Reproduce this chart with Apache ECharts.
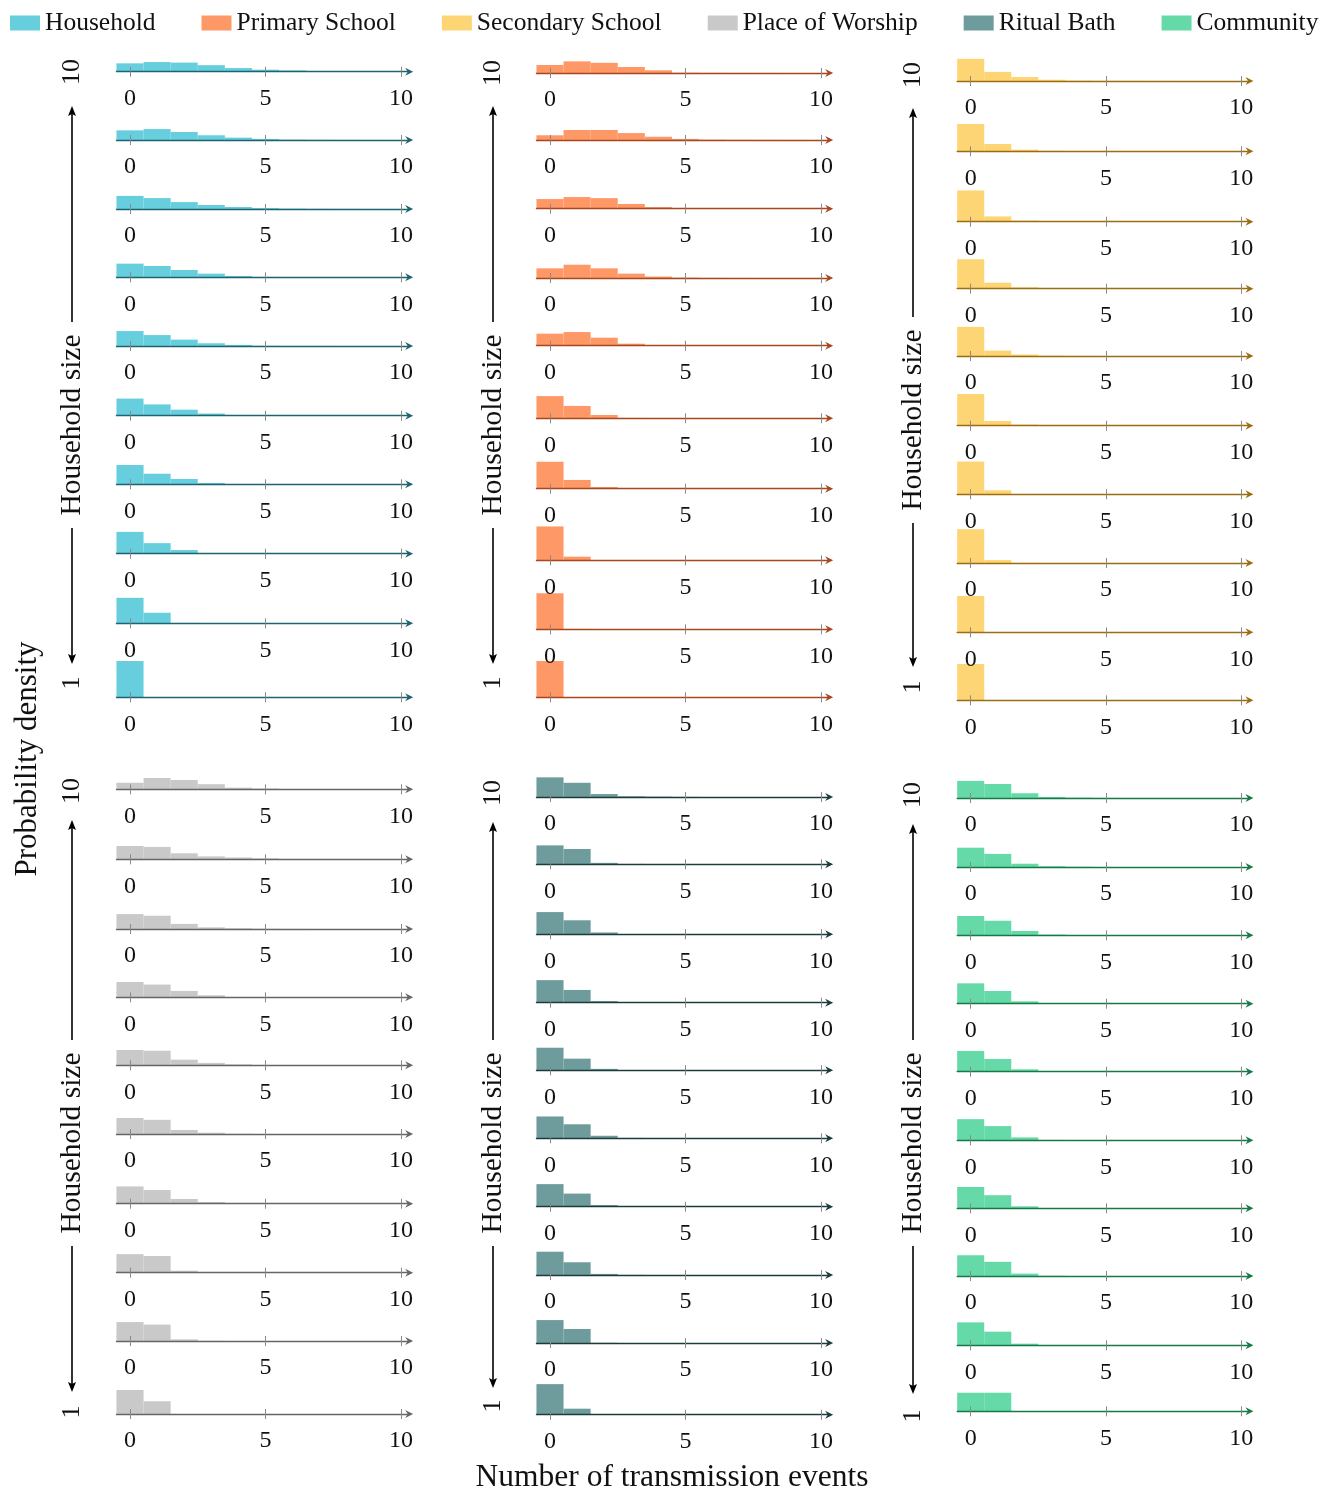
<!DOCTYPE html>
<html><head><meta charset="utf-8">
<script src="https://cdn.jsdelivr.net/npm/echarts@6/dist/echarts.min.js"></script>
<style>html,body{margin:0;padding:0;background:#fff}#c{width:1327px;height:1492px}</style>
</head><body><div id="c"></div>
<script>
// ---------- DATA ----------
const categories = ['Household', 'Primary School', 'Secondary School', 'Place of Worship', 'Ritual Bath', 'Community'];
const bins = [0, 1, 2, 3, 4, 5, 6, 7, 8, 9, 10];
const householdSizes = [10, 9, 8, 7, 6, 5, 4, 3, 2, 1];   // top to bottom in each panel
const xTickLabels = [0, 5, 10];

const household = [
  [0.23, 0.265, 0.25, 0.18, 0.10, 0.055, 0.035, 0.015, 0.006, 0.003, 0.002],
  [0.265, 0.30, 0.22, 0.13, 0.065, 0.03, 0.01, 0.005, 0.003, 0.002, 0.001],
  [0.36, 0.30, 0.19, 0.11, 0.055, 0.025, 0.01, 0.005, 0.003, 0.002, 0.001],
  [0.375, 0.31, 0.20, 0.10, 0.035, 0.01, 0.004, 0.002, 0.001, 0, 0],
  [0.41, 0.30, 0.175, 0.075, 0.03, 0.006, 0.002, 0.001, 0, 0, 0],
  [0.47, 0.31, 0.165, 0.06, 0.005, 0, 0, 0, 0, 0, 0],
  [0.53, 0.29, 0.145, 0.035, 0.002, 0, 0, 0, 0, 0, 0],
  [0.60, 0.29, 0.10, 0.01, 0, 0, 0, 0, 0, 0, 0],
  [0.70, 0.29, 0.01, 0, 0, 0, 0, 0, 0, 0, 0],
  [1.0, 0, 0, 0, 0, 0, 0, 0, 0, 0, 0]
];
const primarySchool = [
  [0.22, 0.32, 0.28, 0.165, 0.075, 0.008, 0.004, 0.002, 0.001, 0, 0],
  [0.13, 0.275, 0.275, 0.19, 0.09, 0.03, 0.008, 0.003, 0.002, 0.001, 0],
  [0.265, 0.32, 0.29, 0.13, 0.045, 0.01, 0.003, 0.001, 0, 0, 0],
  [0.265, 0.365, 0.265, 0.12, 0.04, 0.01, 0.003, 0.001, 0, 0, 0],
  [0.33, 0.375, 0.22, 0.055, 0.01, 0.003, 0.001, 0, 0, 0, 0],
  [0.61, 0.34, 0.09, 0.01, 0.002, 0, 0, 0, 0, 0, 0],
  [0.74, 0.24, 0.045, 0.01, 0.003, 0, 0, 0, 0, 0, 0],
  [0.93, 0.10, 0.005, 0, 0, 0, 0, 0, 0, 0, 0],
  [0.99, 0.01, 0, 0, 0, 0, 0, 0, 0, 0, 0],
  [1.0, 0, 0, 0, 0, 0, 0, 0, 0, 0, 0]
];
const secondarySchool = [
  [0.61, 0.25, 0.11, 0.035, 0.01, 0.004, 0.002, 0.001, 0, 0, 0],
  [0.75, 0.20, 0.045, 0.01, 0.003, 0, 0, 0, 0, 0, 0],
  [0.86, 0.145, 0.03, 0.005, 0, 0, 0, 0, 0, 0, 0],
  [0.81, 0.165, 0.04, 0.01, 0.003, 0, 0, 0, 0, 0, 0],
  [0.80, 0.15, 0.04, 0.01, 0.003, 0, 0, 0, 0, 0, 0],
  [0.87, 0.13, 0.03, 0.005, 0, 0, 0, 0, 0, 0, 0],
  [0.90, 0.11, 0.01, 0, 0, 0, 0, 0, 0, 0, 0],
  [0.93, 0.08, 0.005, 0, 0, 0, 0, 0, 0, 0, 0],
  [1.0, 0.003, 0, 0, 0, 0, 0, 0, 0, 0, 0],
  [1.0, 0, 0, 0, 0, 0, 0, 0, 0, 0, 0]
];
const placeOfWorship = [
  [0.18, 0.31, 0.255, 0.14, 0.045, 0.02, 0.005, 0.002, 0.001, 0, 0],
  [0.365, 0.34, 0.165, 0.08, 0.05, 0.025, 0.008, 0.003, 0.001, 0, 0],
  [0.41, 0.365, 0.14, 0.045, 0.02, 0.005, 0.002, 0, 0, 0, 0],
  [0.42, 0.35, 0.175, 0.055, 0.005, 0, 0, 0, 0, 0, 0],
  [0.42, 0.40, 0.155, 0.065, 0.025, 0.005, 0, 0, 0, 0, 0],
  [0.44, 0.39, 0.11, 0.035, 0.005, 0, 0, 0, 0, 0, 0],
  [0.475, 0.375, 0.13, 0.045, 0.005, 0, 0, 0, 0, 0, 0],
  [0.51, 0.46, 0.055, 0.005, 0, 0, 0, 0, 0, 0, 0],
  [0.52, 0.45, 0.045, 0.003, 0, 0, 0, 0, 0, 0, 0],
  [0.66, 0.35, 0, 0, 0, 0, 0, 0, 0, 0, 0]
];
const ritualBath = [
  [0.54, 0.39, 0.08, 0.02, 0.01, 0.003, 0, 0, 0, 0, 0],
  [0.52, 0.42, 0.04, 0.01, 0.003, 0, 0, 0, 0, 0, 0],
  [0.61, 0.385, 0.05, 0.005, 0, 0, 0, 0, 0, 0, 0],
  [0.62, 0.35, 0.045, 0.005, 0, 0, 0, 0, 0, 0, 0],
  [0.62, 0.32, 0.04, 0.005, 0, 0, 0, 0, 0, 0, 0],
  [0.60, 0.385, 0.07, 0.01, 0.002, 0, 0, 0, 0, 0, 0],
  [0.62, 0.36, 0.045, 0.005, 0, 0, 0, 0, 0, 0, 0],
  [0.64, 0.35, 0.03, 0.003, 0, 0, 0, 0, 0, 0, 0],
  [0.63, 0.385, 0.005, 0, 0, 0, 0, 0, 0, 0, 0],
  [0.84, 0.165, 0, 0, 0, 0, 0, 0, 0, 0, 0]
];
const community = [
  [0.47, 0.385, 0.13, 0.03, 0.01, 0.003, 0, 0, 0, 0, 0],
  [0.53, 0.36, 0.09, 0.02, 0.005, 0, 0, 0, 0, 0, 0],
  [0.53, 0.40, 0.12, 0.02, 0.005, 0, 0, 0, 0, 0, 0],
  [0.56, 0.35, 0.065, 0.02, 0.005, 0, 0, 0, 0, 0, 0],
  [0.57, 0.35, 0.065, 0.015, 0.003, 0, 0, 0, 0, 0, 0],
  [0.58, 0.39, 0.08, 0.01, 0.002, 0, 0, 0, 0, 0, 0],
  [0.585, 0.36, 0.055, 0.005, 0, 0, 0, 0, 0, 0, 0],
  [0.57, 0.39, 0.065, 0.005, 0, 0, 0, 0, 0, 0, 0],
  [0.63, 0.375, 0.045, 0.003, 0, 0, 0, 0, 0, 0, 0],
  [0.51, 0.51, 0, 0, 0, 0, 0, 0, 0, 0, 0]
];

// ---------- STYLE / LAYOUT ----------
const FONT = "'Liberation Serif','Times New Roman',serif";
const fills = ['#66CEDC', '#FE9867', '#FED574', '#C9C9C9', '#6E9B9B', '#66D9A8'];
const lineCols = ['#1d6470', '#a8461c', '#9c6c10', '#666666', '#1c3c3c', '#157a45'];
const colZeroPx = [130, 550, 970.7];
const unitPx = [27.1, 27.1, 27.06];
const panelAxisY = [
  [71.7, 140, 209, 277.3, 346, 415.7, 484.3, 553.7, 623.3, 697.3],
  [73, 140, 208.7, 278, 345.7, 418.3, 488.7, 560.3, 629.3, 697.3],
  [81, 151.3, 221.7, 288.7, 356, 425.7, 494.3, 563, 632.3, 700.3],
  [789.3, 859.3, 929, 997.3, 1065.3, 1134, 1203.7, 1272.7, 1341, 1414],
  [797, 864.3, 934.3, 1002.7, 1070.3, 1138.3, 1206.7, 1275, 1343, 1414.7],
  [798, 867, 935.3, 1003.7, 1071.7, 1140.3, 1208.3, 1276, 1345.3, 1411.3]
];
const X_MIN = -0.5, X_MAX = 10.3, Y_PX = 36.4;

// annotation layout per panel: [label10Y, tipTopY, textY, tipBotY, label1Y]
const annX = [72, 493, 913];
const annY = [
  [72, 106, 425, 664, 683],
  [73, 106, 425, 664, 683],
  [75, 108, 420, 667, 687],
  [791, 820, 1143, 1392, 1412],
  [793, 822, 1143, 1388, 1406],
  [795, 824, 1143, 1394, 1416]
];

const dataSets = [household, primarySchool, secondarySchool, placeOfWorship, ritualBath, community];

function renderItem(params, api) {
  const x = api.value(0), y = api.value(1);
  if (!(y > 0)) return null;
  const x0 = Math.max(x - 0.5, X_MIN), x1 = Math.min(x + 0.5, X_MAX);
  const p0 = api.coord([x0, 0]), p1 = api.coord([x1, y]);
  return {
    type: 'rect',
    shape: { x: p0[0], y: p1[1], width: p1[0] - p0[0], height: p0[1] - p1[1] },
    style: { fill: api.visual('color') }
  };
}

const grids = [], xAxes = [], yAxes = [], series = [];
dataSets.forEach((rows, p) => {
  const col = p % 3;
  rows.forEach((vals, r) => {
    const gi = grids.length;
    const axisY = panelAxisY[p][r];
    const left = colZeroPx[col] + X_MIN * unitPx[col];
    const width = (X_MAX - X_MIN) * unitPx[col];
    grids.push({ left: left, top: axisY - Y_PX, width: width, height: Y_PX, containLabel: false });
    xAxes.push({
      gridIndex: gi, type: 'value', min: X_MIN, max: X_MAX, position: 'bottom', z: 5,
      axisLine: { show: true, onZero: false, lineStyle: { color: lineCols[p], width: 1.3 },
        symbol: ['none', 'path://M0,0 L6,12 L0,8 L-6,12 Z'], symbolSize: [8, 10] },
      axisTick: { show: true, customValues: xTickLabels, length: 5, lineStyle: { color: '#8a8a8a', width: 1 } },
      axisLabel: { show: true, customValues: xTickLabels, margin: 15, fontSize: 24, fontFamily: FONT, color: '#111' },
      splitLine: { show: false }
    });
    xAxes.push({
      gridIndex: gi, type: 'value', min: X_MIN, max: X_MAX, position: 'bottom', z: 5,
      axisLine: { show: false },
      axisTick: { show: true, inside: true, customValues: xTickLabels, length: 5, lineStyle: { color: '#8a8a8a', width: 1 } },
      axisLabel: { show: false },
      splitLine: { show: false }
    });
    yAxes.push({ gridIndex: gi, type: 'value', min: 0, max: 1, show: false });
    series.push({
      type: 'custom', name: categories[p], xAxisIndex: 2 * gi, yAxisIndex: gi,
      itemStyle: { color: fills[p] }, renderItem: renderItem, z: 2,
      data: vals.map((v, i) => [bins[i], v])
    });
  });
});

// annotations (arrows + texts)
const graphics = [];
function vText(x, y, text, size) {
  graphics.push({ type: 'text', x: x, y: y, rotation: Math.PI / 2,
    style: { text: text, fontSize: size, fontFamily: FONT, fill: '#111', align: 'center', verticalAlign: 'middle' } });
}
annY.forEach((a, p) => {
  const x = annX[p % 3];
  const [l10, tTop, tMid, tBot, l1] = a;
  vText(x, l10, String(householdSizes[0]), 26);
  vText(x, tMid, 'Household size', 29.5);
  vText(x, l1, String(householdSizes[householdSizes.length - 1]), 26);
  graphics.push({ type: 'line', shape: { x1: x, y1: tTop + 6, x2: x, y2: tMid - 103 }, style: { stroke: '#000', lineWidth: 1.6 } });
  graphics.push({ type: 'line', shape: { x1: x, y1: tMid + 103, x2: x, y2: tBot - 6 }, style: { stroke: '#000', lineWidth: 1.6 } });
  graphics.push({ type: 'polygon', shape: { points: [[x, tTop], [x - 4, tTop + 10], [x, tTop + 8], [x + 4, tTop + 10]] }, style: { fill: '#000' } });
  graphics.push({ type: 'polygon', shape: { points: [[x, tBot], [x - 4, tBot - 10], [x, tBot - 8], [x + 4, tBot - 10]] }, style: { fill: '#000' } });
});
vText(28, 759, 'Probability density', 31);
graphics.push({ type: 'text', x: 672, y: 1478,
  style: { text: 'Number of transmission events', fontSize: 31.5, fontFamily: FONT, fill: '#111', align: 'center', verticalAlign: 'middle' } });

const chart = echarts.init(document.getElementById('c'), null, { renderer: 'canvas' });
chart.setOption({
  animation: false,
  backgroundColor: '#fff',
  legend: {
    data: categories, left: 5, top: 5, icon: 'rect', itemWidth: 30, itemHeight: 15, itemGap: 46,
    textStyle: { fontSize: 25.5, fontFamily: FONT, color: '#111' }
  },
  grid: grids, xAxis: xAxes, yAxis: yAxes, series: series, graphic: graphics
});
</script></body></html>
